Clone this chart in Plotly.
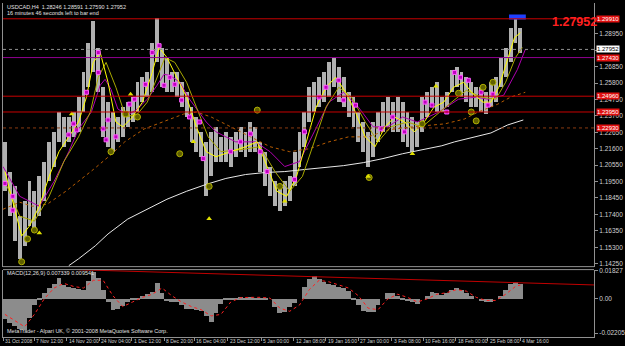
import plotly.graph_objects as go

# ---------------- data ----------------
bar_x = list(range(5, 531, 5))
price_high = [1.2204, 1.2014, 1.1919, 1.1729, 1.1824, 1.1951, 1.1888, 1.1983, 1.2078, 1.2204,
              1.2268, 1.2395, 1.2363, 1.2363, 1.2395, 1.2490, 1.2648, 1.2838, 1.2978, 1.2807,
              1.2553, 1.2458, 1.2395, 1.2363, 1.2426, 1.2458, 1.2490, 1.2585, 1.2617, 1.2648,
              1.2838, 1.2997, 1.2807, 1.2743, 1.2648, 1.2648, 1.2585, 1.2521, 1.2426, 1.2363,
              1.2268, 1.2204, 1.2268, 1.2300, 1.2236, 1.2268, 1.2236, 1.2268, 1.2300, 1.2268,
              1.2331, 1.2300, 1.2204, 1.2141, 1.2046, 1.1951, 1.1919, 1.1951, 1.1983, 1.2141,
              1.2268, 1.2395, 1.2553, 1.2585, 1.2617, 1.2648, 1.2712, 1.2743, 1.2680, 1.2617,
              1.2521, 1.2490, 1.2395, 1.2331, 1.2268, 1.2331, 1.2395, 1.2458, 1.2490, 1.2458,
              1.2490, 1.2458, 1.2395, 1.2363, 1.2331, 1.2490, 1.2521, 1.2553, 1.2585, 1.2490,
              1.2521, 1.2661, 1.2680, 1.2648, 1.2617, 1.2585, 1.2553, 1.2553, 1.2521, 1.2585,
              1.2617, 1.2743, 1.2807, 1.2934, 1.2997, 1.2934]
price_low = [1.1888, 1.1729, 1.1570, 1.1456, 1.1539, 1.1666, 1.1634, 1.1729, 1.1824, 1.1951,
             1.2046, 1.2204, 1.2173, 1.2204, 1.2236, 1.2268, 1.2395, 1.2553, 1.2648, 1.2521,
             1.2236, 1.2173, 1.2141, 1.2204, 1.2236, 1.2300, 1.2331, 1.2395, 1.2458, 1.2490,
             1.2521, 1.2712, 1.2553, 1.2521, 1.2521, 1.2490, 1.2426, 1.2363, 1.2204, 1.2141,
             1.2109, 1.1856, 1.1983, 1.2078, 1.2078, 1.2078, 1.2046, 1.2109, 1.2141, 1.2109,
             1.2141, 1.2141, 1.2014, 1.1919, 1.1856, 1.1792, 1.1761, 1.1792, 1.1824, 1.1919,
             1.2046, 1.2173, 1.2331, 1.2395, 1.2426, 1.2458, 1.2490, 1.2553, 1.2458, 1.2426,
             1.2363, 1.2300, 1.2204, 1.2141, 1.2046, 1.2109, 1.2204, 1.2268, 1.2300, 1.2268,
             1.2268, 1.2204, 1.2173, 1.2141, 1.2173, 1.2268, 1.2363, 1.2426, 1.2395, 1.2395,
             1.2426, 1.2521, 1.2553, 1.2490, 1.2458, 1.2426, 1.2426, 1.2395, 1.2382, 1.2426,
             1.2458, 1.2553, 1.2617, 1.2712, 1.2838, 1.2775]

white_x = [70, 80, 97, 110, 130, 150, 170, 190, 210, 230, 250, 270, 290, 310, 330, 350, 370, 390, 410, 430, 450, 463, 480, 500, 517, 533]
white_y = [1.1412, 1.1456, 1.1539, 1.1615, 1.1710, 1.1773, 1.1837, 1.1888, 1.1932, 1.1970, 1.1995, 1.2008, 1.2014,
           1.2027, 1.2040, 1.2052, 1.2071, 1.2097, 1.2128, 1.2154, 1.2179, 1.2204, 1.2230, 1.2261, 1.2312, 1.2344]

orange_x = [3, 20, 33, 48, 67, 80, 95, 113, 127, 147, 160, 173, 187, 200, 215, 235, 255, 275, 295, 315, 335, 355, 375, 395, 420, 453, 473, 487, 507, 520, 535]
orange_y = [1.1773, 1.1818, 1.1792, 1.1805, 1.1888, 1.1951, 1.2027, 1.2122, 1.2204, 1.2287, 1.2319, 1.2350, 1.2382,
            1.2395, 1.2363, 1.2300, 1.2236, 1.2173, 1.2141, 1.2160, 1.2204, 1.2236, 1.2236, 1.2280, 1.2300, 1.2319,
            1.2350, 1.2395, 1.2445, 1.2490, 1.2521]

purple_x = [3, 20, 40, 55, 70, 80, 93, 102, 107, 113, 120, 130, 140, 150, 160, 167, 173, 183, 193, 203, 210, 220, 240,
            260, 275, 290, 305, 320, 335, 350, 365, 380, 395, 410, 425, 447, 467, 485, 497, 513, 527, 535]
purple_y = [1.2046, 1.1856, 1.1792, 1.1951, 1.2141, 1.2287, 1.2395, 1.2566, 1.2604, 1.2540, 1.2414, 1.2376, 1.2414,
            1.2477, 1.2566, 1.2636, 1.2629, 1.2585, 1.2477, 1.2395, 1.2331, 1.2268, 1.2204, 1.2204, 1.2141, 1.2046,
            1.2078, 1.2268, 1.2458, 1.2521, 1.2426, 1.2300, 1.2300, 1.2363, 1.2331, 1.2395, 1.2477, 1.2490, 1.2477,
            1.2502, 1.2667, 1.2794]

yellow_x = [5, 15, 22, 30, 40, 50, 60, 70, 80, 88, 95, 102, 110, 118, 125, 135, 145, 155, 162, 170, 180, 190, 200,
            210, 220, 235, 250, 262, 272, 282, 292, 302, 312, 322, 332, 342, 352, 362, 372, 382, 392, 402, 412, 422,
            432, 442, 452, 462, 472, 482, 492, 500, 508, 516, 524, 530]
yellow_y = [1.2014, 1.1761, 1.1602, 1.1666, 1.1792, 1.1983, 1.2141, 1.2236, 1.2331, 1.2490, 1.2712, 1.2775, 1.2585,
            1.2331, 1.2300, 1.2363, 1.2458, 1.2648, 1.2807, 1.2743, 1.2617, 1.2490, 1.2300, 1.2141, 1.2109, 1.2141,
            1.2173, 1.2204, 1.2046, 1.1888, 1.1856, 1.1983, 1.2204, 1.2426, 1.2553, 1.2617, 1.2521, 1.2395, 1.2236,
            1.2173, 1.2300, 1.2363, 1.2331, 1.2268, 1.2331, 1.2426, 1.2458, 1.2553, 1.2585, 1.2509, 1.2458, 1.2458,
            1.2553, 1.2712, 1.2870, 1.2902]

olive_x = [5, 20, 35, 50, 65, 80, 92, 100, 108, 118, 128, 140, 150, 160, 168, 178, 190, 200, 212, 225, 245, 265, 280,
           295, 308, 320, 332, 345, 358, 372, 385, 398, 415, 430, 445, 460, 475, 490, 505, 515, 525, 532]
olive_y = [1.1951, 1.1729, 1.1697, 1.1856, 1.2078, 1.2236, 1.2395, 1.2617, 1.2712, 1.2553, 1.2363, 1.2382, 1.2458,
           1.2617, 1.2743, 1.2712, 1.2585, 1.2426, 1.2236, 1.2141, 1.2154, 1.2173, 1.2014, 1.1888, 1.1983, 1.2204,
           1.2426, 1.2553, 1.2490, 1.2331, 1.2204, 1.2300, 1.2331, 1.2300, 1.2382, 1.2458, 1.2534, 1.2490, 1.2477,
           1.2585, 1.2743, 1.2807]

square_x = [5, 13, 13, 70, 75, 78, 88, 100, 100, 105, 110, 108, 118, 132, 137, 148, 155, 162, 167, 173, 178, 185, 193,
            203, 207, 235, 245, 255, 265, 272, 300, 310, 325, 332, 345, 350, 362, 388, 400, 412, 433, 440, 455, 463,
            469, 477, 490, 497, 502]
square_y = [1.1938, 1.1856, 1.1767, 1.2249, 1.2319, 1.2280, 1.2521, 1.2648, 1.2775, 1.2287, 1.2344, 1.2217, 1.2236,
            1.2445, 1.2477, 1.2572, 1.2775, 1.2819, 1.2566, 1.2617, 1.2572, 1.2471, 1.2363, 1.2331, 1.2097, 1.2141,
            1.2204, 1.2255, 1.2141, 1.2014, 1.1964, 1.2268, 1.2490, 1.2553, 1.2598, 1.2471, 1.2439, 1.2287, 1.2363,
            1.2268, 1.2458, 1.2439, 1.2395, 1.2648, 1.2617, 1.2598, 1.2521, 1.2439, 1.2509]

circle_x = [22, 28, 35, 113, 128, 140, 183, 213, 262, 285, 376, 430, 467, 480, 485, 492, 502]
circle_y = [1.1437, 1.1583, 1.1640, 1.2141, 1.2382, 1.2363, 1.2128, 1.1919, 1.2407, 1.1919, 1.1976, 1.2319, 1.2515,
            1.2395, 1.2338, 1.2553, 1.2585]

tri_x = [40, 73, 133, 197, 213, 290, 375, 420, 444]
tri_y = [1.1621, 1.2382, 1.2509, 1.2204, 1.1712, 1.1824, 1.1983, 1.2128, 1.2559]

blue_x = [527]
blue_y = [1.3002]

level_red = [1.2991, 1.2496, 1.2395]
level_bid = 1.27952
level_purple = 1.2743
level_orange = 1.2293

price_ticks = [1.28950, 1.27900, 1.26850, 1.25800, 1.24750, 1.23700, 1.22650, 1.21600,
               1.20550, 1.19500, 1.18450, 1.17400, 1.16350, 1.15300, 1.14250]
price_ticktext = ["1.28950", "", "1.26850", "1.25800", "1.24750", "1.23700", "1.22650", "1.21600",
                  "1.20550", "1.19500", "1.18450", "1.17400", "1.16350", "1.15300", "1.14250"]

macd_hist = [-0.013, -0.015, -0.017, -0.019, -0.020, -0.012, -0.004, 0.001, 0.004, 0.007,
             0.010, 0.0138, 0.009, 0.008, 0.007, 0.0065, 0.006, 0.012, 0.0176, 0.014,
             0.006, -0.002, -0.007, -0.006, -0.0045, -0.002, 0.0005, 0.001, 0.002, 0.0035,
             0.005, 0.0105, 0.004, -0.0005, -0.0015, -0.002, -0.004, -0.006, -0.0065, -0.007,
             -0.0074, -0.011, -0.0148, -0.009, -0.003, 0.0005, 0.001, 0.001, 0.0012, 0.001,
             0.0012, 0.001, 0.0008, 0.001, 0.0, -0.005, -0.009, -0.008, -0.005, -0.0025,
             0.0, 0.008, 0.013, 0.015, 0.013, 0.011, 0.010, 0.009, 0.008, 0.007,
             0.0055, 0.001, -0.004, -0.0075, -0.008, -0.008, -0.004, 0.0, 0.004, 0.004,
             0.002, 0.0005, -0.001, -0.002, -0.003, 0.0, 0.002, 0.0045, 0.004, 0.003,
             0.004, 0.006, 0.007, 0.006, 0.004, 0.002, 0.0, -0.001, -0.002, -0.0015,
             0.0, 0.002, 0.006, 0.010, 0.011, 0.010]
sig_x = [5, 15, 25, 35, 45, 55, 65, 75, 85, 95, 105, 115, 125, 135, 145, 155, 165, 175, 185, 195, 205, 215, 225, 235,
         245, 255, 265, 275, 285, 295, 305, 315, 325, 335, 345, 355, 365, 375, 385, 395, 405, 415, 425, 435, 445, 455,
         465, 475, 485, 495, 505, 515, 525, 530]
sig_y = [-0.010, -0.014, -0.018, -0.010, 0.000, 0.007, 0.010, 0.008, 0.007, 0.012, 0.012, 0.002, -0.005, -0.002,
         0.001, 0.003, 0.007, 0.002, -0.002, -0.005, -0.007, -0.011, -0.010, -0.002, 0.0008, 0.001, 0.001, 0.0005,
         -0.006, -0.008, -0.004, 0.006, 0.012, 0.011, 0.009, 0.007, 0.002, -0.006, -0.007, 0.000, 0.003, 0.001,
         -0.002, 0.000, 0.003, 0.004, 0.006, 0.005, 0.001, -0.001, -0.001, 0.003, 0.008, 0.009]
macd_trend_x = [80, 605]
macd_trend_y = [0.0188, 0.0090]

date_pos = [3, 35, 68, 101, 134, 167, 198, 232, 266, 299, 332, 365, 399, 431, 464, 497, 530]
date_text = ["31 Oct 2008", "7 Nov 12:00", "14 Nov 20:00", "24 Nov 04:00", "1 Dec 12:00", "8 Dec 20:00",
             "16 Dec 04:00", "23 Dec 12:00", "5 Jan 00:00", "12 Jan 08:00", "19 Jan 16:00", "27 Jan 00:00",
             "3 Feb 08:00", "10 Feb 16:00", "18 Feb 00:00", "25 Feb 08:00", "4 Mar 16:00"]

# ---------------- figure ----------------
FONT = "Liberation Sans"
X0, X1 = 3, 605
fig = go.Figure()

fig.add_trace(go.Bar(x=bar_x, y=[h - l for h, l in zip(price_high, price_low)], base=price_low,
                     width=4, marker=dict(color="#b0b0b0", line=dict(width=0)), yaxis="y"))
fig.add_trace(go.Scatter(x=white_x, y=white_y, mode="lines", line=dict(color="#e8e8e8", width=1), yaxis="y"))
fig.add_trace(go.Scatter(x=orange_x, y=orange_y, mode="lines", line=dict(color="#b85c00", width=1, dash="dot"), yaxis="y"))
fig.add_trace(go.Scatter(x=purple_x, y=purple_y, mode="lines", line=dict(color="#b000b0", width=1), yaxis="y"))
fig.add_trace(go.Scatter(x=olive_x, y=olive_y, mode="lines", line=dict(color="#a8a800", width=1), yaxis="y"))
fig.add_trace(go.Scatter(x=yellow_x, y=yellow_y, mode="lines", line=dict(color="#ffff00", width=1), yaxis="y"))
fig.add_trace(go.Scatter(x=square_x, y=square_y, mode="markers",
                         marker=dict(symbol="square", size=4, color="#c000c0", line=dict(color="#ff60ff", width=1)), yaxis="y"))
fig.add_trace(go.Scatter(x=circle_x, y=circle_y, mode="markers",
                         marker=dict(symbol="circle", size=6, color="#606000", line=dict(color="#b0b000", width=1)), yaxis="y"))
fig.add_trace(go.Scatter(x=tri_x, y=tri_y, mode="markers",
                         marker=dict(symbol="triangle-up", size=5, color="#e0e000"), yaxis="y"))
fig.add_trace(go.Scatter(x=blue_x, y=blue_y, mode="markers",
                         marker=dict(symbol="line-ew", size=12, line=dict(color="#2040ff", width=5)), yaxis="y"))

# MACD
fig.add_trace(go.Bar(x=bar_x, y=macd_hist, width=5, marker=dict(color="#8c8c8c", line=dict(width=0)), yaxis="y2"))
fig.add_trace(go.Scatter(x=sig_x, y=sig_y, mode="lines", line=dict(color="#ff2020", width=1, dash="dot"), yaxis="y2"))
fig.add_trace(go.Scatter(x=macd_trend_x, y=macd_trend_y, mode="lines", line=dict(color="#c00000", width=1), yaxis="y2"))

shapes = []
for lv in level_red:
    shapes.append(dict(type="line", xref="paper", x0=0, x1=1, yref="y", y0=lv, y1=lv,
                       line=dict(color="#c80000", width=1)))
shapes.append(dict(type="line", xref="paper", x0=0, x1=1, yref="y", y0=level_bid, y1=level_bid,
                   line=dict(color="#909090", width=1, dash="dot")))
shapes.append(dict(type="line", xref="paper", x0=0, x1=1, yref="y", y0=level_purple, y1=level_purple,
                   line=dict(color="#900090", width=1)))
shapes.append(dict(type="line", xref="paper", x0=0, x1=1, yref="y", y0=level_orange, y1=level_orange,
                   line=dict(color="#8a3a10", width=1, dash="dot")))
shapes.append(dict(type="line", xref="paper", x0=0, x1=1, yref="y domain", y0=0, y1=0,
                   line=dict(color="#909090", width=1)))
shapes.append(dict(type="line", xref="paper", x0=0, x1=1, yref="y2 domain", y0=1, y1=1,
                   line=dict(color="#909090", width=1)))

H = 337.0
W = float(X1 - X0)
ann = []
small = dict(family=FONT, size=5.5, color="#e0e0e0")
ann.append(dict(xref="paper", yref="paper", x=0.003, y=(H - 4) / H, xanchor="left", yanchor="middle",
                text="USDCAD,H4  1.28246 1.28591 1.27590 1.27952", showarrow=False, font=small))
ann.append(dict(xref="paper", yref="paper", x=0.003, y=(H - 10) / H, xanchor="left", yanchor="middle",
                text="16 minutes 46 seconds left to bar end", showarrow=False, font=small))
ann.append(dict(xref="paper", yref="paper", x=0.003, y=(H - 272) / H, xanchor="left", yanchor="middle",
                text="MACD(12,26,9) 0.007339 0.009541", showarrow=False, font=small))
ann.append(dict(xref="paper", yref="paper", x=0.003, y=(H - 331) / H, xanchor="left", yanchor="middle",
                text="MetaTrader - Alpari UK, © 2001-2008 MetaQuotes Software Corp.", showarrow=False, font=small))
ann.append(dict(xref="paper", yref="paper", x=1.0, y=(H - 19) / H, xanchor="right", yanchor="middle",
                xshift=5, text="<b>1.27952</b>", showarrow=False,
                font=dict(family=FONT, size=12.5, color="#ff2020")))
for d, t in zip(date_pos, date_text):
    ann.append(dict(xref="x", yref="paper", x=d, y=(H - 341) / H, xanchor="left", yanchor="middle",
                    text=t, showarrow=False, font=dict(family=FONT, size=5, color="#d0d0d0")))
for lv in level_red + [level_purple, level_orange]:
    ann.append(dict(xref="paper", yref="y", x=1.0, y=lv, xanchor="left", yanchor="middle", xshift=2,
                    text="%.5f" % lv, showarrow=False, bgcolor="#e01010", borderpad=0,
                    font=dict(family=FONT, size=6, color="#ffffff")))
ann.append(dict(xref="paper", yref="y", x=1.0, y=level_bid, xanchor="left", yanchor="middle", xshift=2,
                text="%.5f" % level_bid, showarrow=False, bgcolor="#ffffff", borderpad=0,
                font=dict(family=FONT, size=6, color="#000000")))

fig.update_layout(
    width=625, height=346, margin=dict(l=X0, r=625 - X1, t=0, b=9),
    paper_bgcolor="#000000", plot_bgcolor="#000000", showlegend=False,
    barmode="overlay", bargap=0, shapes=shapes, annotations=ann,
    xaxis=dict(range=[X0, X1], anchor="y2", showgrid=False, zeroline=False, showline=True,
               linecolor="#909090", ticks="outside", ticklen=3, tickcolor="#909090",
               tickvals=date_pos, showticklabels=False, fixedrange=True),
    yaxis=dict(domain=[(H - 266) / H, 1], range=[1.1406, 1.3092], side="right", showgrid=False,
               zeroline=False, showline=True, mirror=True, linecolor="#909090", ticks="outside",
               ticklen=3, tickcolor="#909090", tickvals=price_ticks, ticktext=price_ticktext,
               tickfont=dict(family=FONT, size=6.5, color="#d0d0d0")),
    yaxis2=dict(domain=[0, (H - 269) / H], range=[-0.0246, 0.0189], side="right", showgrid=False,
                zeroline=False, showline=True, mirror=True, linecolor="#909090", ticks="outside",
                ticklen=3, tickcolor="#909090", tickvals=[0.01827, 0.0, -0.02205],
                ticktext=["0.01827", "0.00", "-0.02205"],
                tickfont=dict(family=FONT, size=6.5, color="#d0d0d0")),
)

fig.write_html("out.html")
